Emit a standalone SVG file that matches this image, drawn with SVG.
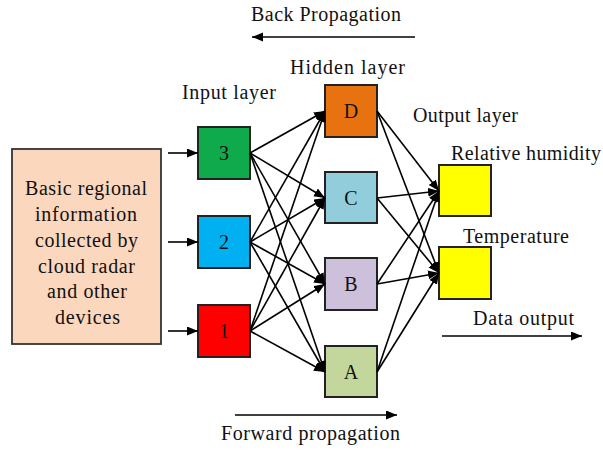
<svg xmlns="http://www.w3.org/2000/svg" width="603" height="451" viewBox="0 0 603 451">
<defs>
<marker id="ah" markerUnits="userSpaceOnUse" markerWidth="12" markerHeight="10" refX="11" refY="4.5" orient="auto">
<path d="M0,0 L11,4.5 L0,9 z" fill="#000"/>
</marker>
<style>
text{font-size:20px;fill:#111}
.n{stroke:#222;stroke-width:2}
.c line{stroke:#000;stroke-width:1.6;marker-end:url(#ah)}
.lbl{text-anchor:middle}
</style>
</defs>
<rect width="603" height="451" fill="#fff"/>
<g font-family="Liberation Serif, Tinos, Times New Roman, serif">
<g id="labels">
<text x="251" y="21" textLength="150" lengthAdjust="spacing">Back Propagation</text>
<text x="290" y="74" textLength="115" lengthAdjust="spacing">Hidden layer</text>
<text x="182" y="99" textLength="94" lengthAdjust="spacing">Input layer</text>
<text x="413" y="122" textLength="105" lengthAdjust="spacing">Output layer</text>
<text x="451" y="160" textLength="150" lengthAdjust="spacing">Relative humidity</text>
<text x="463" y="243" textLength="106" lengthAdjust="spacing">Temperature</text>
<text x="473" y="325" textLength="101" lengthAdjust="spacing">Data output</text>
<text x="221" y="440" textLength="179" lengthAdjust="spacing">Forward propagation</text>
</g>

<g id="source">
<rect x="12" y="149" width="149" height="195" fill="#FAD7BD" stroke="#333" stroke-width="1.8"/>
<text x="25" y="195" textLength="122" lengthAdjust="spacing">Basic regional</text>
<text x="35" y="221" textLength="102" lengthAdjust="spacing">information</text>
<text x="35" y="247" textLength="103" lengthAdjust="spacing">collected by</text>
<text x="38" y="273" textLength="97" lengthAdjust="spacing">cloud radar</text>
<text x="47" y="298" textLength="80" lengthAdjust="spacing">and other</text>
<text x="55" y="324" textLength="65" lengthAdjust="spacing">devices</text>
</g>

<g id="in3"><rect class="n" x="198" y="127" width="52" height="52" fill="#0EAA4B"/><text class="lbl" x="224" y="160">3</text></g>
<g id="in2"><rect class="n" x="198" y="216" width="52" height="52" fill="#00B0F0"/><text class="lbl" x="224" y="249">2</text></g>
<g id="in1"><rect class="n" x="198" y="305" width="52" height="52" fill="#FF0000"/><text class="lbl" x="224" y="338">1</text></g>

<g id="hD"><rect class="n" x="325" y="85" width="52" height="52" fill="#E8720F"/><text class="lbl" x="351" y="118">D</text></g>
<g id="hC"><rect class="n" x="325" y="172" width="52" height="51" fill="#92CDDC"/><text class="lbl" x="351" y="205">C</text></g>
<g id="hB"><rect class="n" x="325" y="258" width="52" height="52" fill="#CCC0DA"/><text class="lbl" x="351" y="291">B</text></g>
<g id="hA"><rect class="n" x="325" y="346" width="52" height="51" fill="#C3D69B"/><text class="lbl" x="351" y="379">A</text></g>

<g id="outRH"><rect class="n" x="439" y="165" width="52" height="51" fill="#FFFF00"/></g>
<g id="outT"><rect class="n" x="439" y="247" width="52" height="52" fill="#FFFF00"/></g>
</g>
<g id="connectors" class="c">
<line x1="415" y1="37" x2="252" y2="37"/>
<line x1="235" y1="415" x2="397" y2="415"/>
<line x1="442" y1="336" x2="582" y2="336"/>
<line x1="168" y1="153" x2="198" y2="153"/>
<line x1="168" y1="242" x2="198" y2="242"/>
<line x1="168" y1="331" x2="198" y2="331"/>

<line x1="250" y1="153" x2="325" y2="111"/>
<line x1="250" y1="153" x2="325" y2="198"/>
<line x1="250" y1="153" x2="325" y2="284"/>
<line x1="250" y1="153" x2="325" y2="372"/>
<line x1="250" y1="242" x2="325" y2="111"/>
<line x1="250" y1="242" x2="325" y2="198"/>
<line x1="250" y1="242" x2="325" y2="284"/>
<line x1="250" y1="242" x2="325" y2="372"/>
<line x1="250" y1="331" x2="325" y2="111"/>
<line x1="250" y1="331" x2="325" y2="198"/>
<line x1="250" y1="331" x2="325" y2="284"/>
<line x1="250" y1="331" x2="325" y2="372"/>

<line x1="377" y1="111" x2="439" y2="191"/>
<line x1="377" y1="111" x2="439" y2="273"/>
<line x1="377" y1="198" x2="439" y2="191"/>
<line x1="377" y1="198" x2="439" y2="273"/>
<line x1="377" y1="284" x2="439" y2="191"/>
<line x1="377" y1="284" x2="439" y2="273"/>
<line x1="377" y1="372" x2="439" y2="191"/>
<line x1="377" y1="372" x2="439" y2="273"/>
</g>
</svg>
